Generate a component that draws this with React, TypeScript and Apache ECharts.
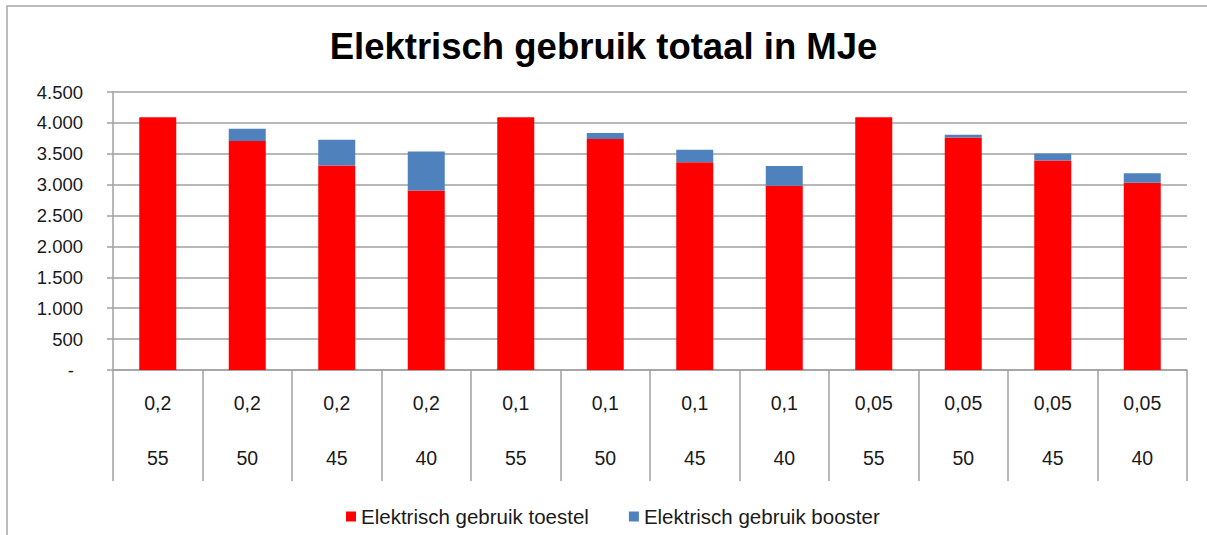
import React, { useEffect, useRef } from "react";
import * as echarts from "echarts";

const titleText = "Elektrisch gebruik totaal in MJe";
const seriesNames = ["Elektrisch gebruik toestel", "Elektrisch gebruik booster"];
const xLabelsTop = ["0,2", "0,2", "0,2", "0,2", "0,1", "0,1", "0,1", "0,1", "0,05", "0,05", "0,05", "0,05"];
const xLabelsBottom = ["55", "50", "45", "40", "55", "50", "45", "40", "55", "50", "45", "40"];
const toestel = [4090, 3707, 3309, 2907, 4091, 3740, 3363, 2984, 4091, 3765, 3391, 3033];
const booster = [0, 200, 419, 630, 0, 97, 202, 320, 0, 44, 114, 151];
const yMin = 0;
const yMax = 4500;
const yInterval = 500;

const fmt = (v: number) => String(v).replace(/\B(?=(\d{3})+(?!\d))/g, ".");
const FONT = "Liberation Sans, Arial, sans-serif";

export default function App() {
  const ref = useRef<HTMLDivElement>(null);
  useEffect(() => {
    if (!ref.current) return;
    const chart = echarts.init(ref.current, null, { renderer: "svg" });
    const categories = xLabelsTop.map((t, i) => `${t}\n\n${xLabelsBottom[i]}`);
    chart.setOption({
      animation: false,
      backgroundColor: "#ffffff",
      textStyle: { fontFamily: FONT },
      title: {
        text: titleText,
        left: "center",
        top: 23,
        textStyle: { fontSize: 36.5, fontWeight: "bold", color: "#000", fontFamily: FONT },
      },
      graphic: [
        {
          type: "rect",
          shape: { x: 7, y: 6, width: 1240, height: 580 },
          style: { fill: "none", stroke: "#a6a6a6", lineWidth: 1.5 },
          silent: true,
        },
      ],
      legend: {
        left: 341,
        top: 501,
        itemWidth: 10,
        itemHeight: 10,
        itemGap: 40,
        icon: "rect",
        textStyle: { fontSize: 20.5, color: "#1a1a1a", fontFamily: FONT },
        data: seriesNames,
      },
      grid: { left: 113, right: 20, top: 92, bottom: 165 },
      xAxis: {
        type: "category",
        data: categories,
        axisLine: { lineStyle: { color: "#a0a0a0", width: 1.5 } },
        axisTick: { show: true, interval: 0, length: 111, lineStyle: { color: "#a0a0a0", width: 1.5 } },
        axisLabel: {
          interval: 0,
          margin: 19,
          fontSize: 19.5,
          lineHeight: 27.5,
          color: "#1a1a1a",
          fontFamily: FONT,
        },
      },
      yAxis: {
        type: "value",
        min: yMin,
        max: yMax,
        interval: yInterval,
        axisLine: { show: true, lineStyle: { color: "#a0a0a0", width: 1.5 } },
        axisTick: { show: true, length: 6, lineStyle: { color: "#a0a0a0", width: 1.5 } },
        splitLine: { lineStyle: { color: "#a0a0a0", width: 1.5 } },
        axisLabel: {
          margin: 30,
          fontSize: 18.5,
          color: "#1a1a1a",
          fontFamily: FONT,
          formatter: (v: number) => (v === 0 ? "{d|-}" : fmt(v)),
          rich: { d: { fontSize: 18.5, color: "#1a1a1a", padding: [0, 9, 0, 0] } },
        },
      },
      series: [
        {
          name: seriesNames[0],
          type: "bar",
          stack: "total",
          barWidth: 37,
          itemStyle: { color: "#ff0000" },
          data: toestel,
        },
        {
          name: seriesNames[1],
          type: "bar",
          stack: "total",
          barWidth: 37,
          itemStyle: { color: "#4f81bd" },
          data: booster,
        },
      ],
    });
    return () => chart.dispose();
  }, []);
  return (
    <div
      ref={ref}
      style={{ position: "fixed", left: 0, top: 0, width: 1207, height: 535, background: "#fff" }}
    />
  );
}
